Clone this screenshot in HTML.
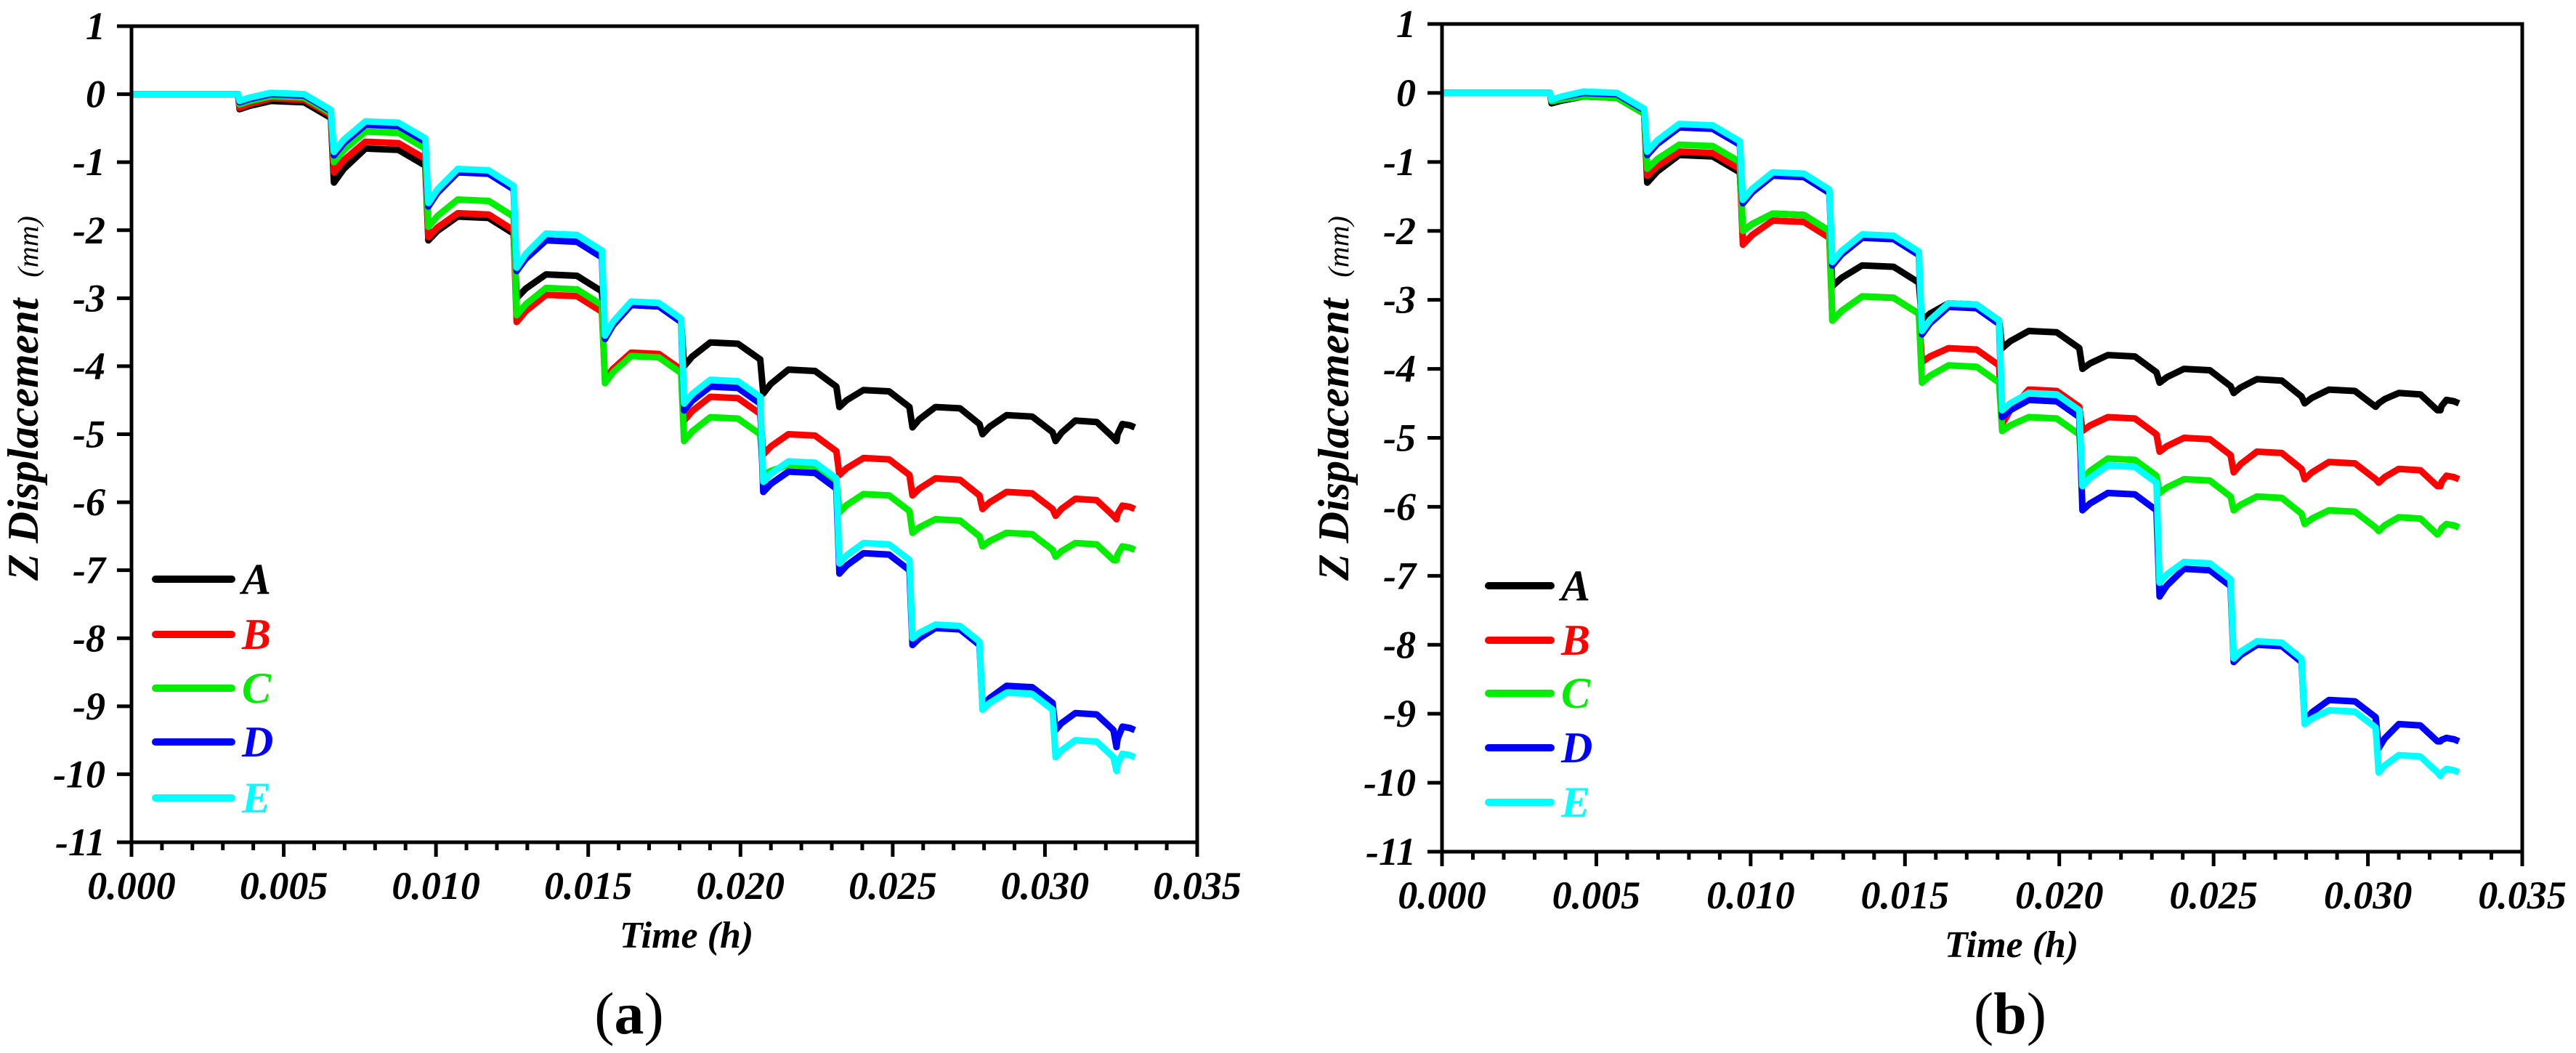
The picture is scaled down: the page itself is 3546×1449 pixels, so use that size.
<!DOCTYPE html>
<html><head><meta charset="utf-8"><style>
html,body{margin:0;padding:0;background:#fff;}
svg{display:block;}
text{font-family:"Liberation Serif",serif;}
</style></head><body>
<svg id="fig" width="3546" height="1449" viewBox="0 0 3546 1449" xmlns="http://www.w3.org/2000/svg"></svg>
<script>
// ---- shared data ----
const stepTimes = [0, 0.0035, 0.0066, 0.0097, 0.0126, 0.0155, 0.0181, 0.0207, 0.0232, 0.0256, 0.0279, 0.0303, 0.0323, 0.0330];
const seriesNames = ["A", "B", "C", "D", "E"];
const xTicks = ["0.000", "0.005", "0.010", "0.015", "0.020", "0.025", "0.030", "0.035"];
const yTicks = [1, 0, -1, -2, -3, -4, -5, -6, -7, -8, -9, -10, -11];
// panel (a): low value right after each step, and recovered plateau
const aLowA = [0, -0.22, -1.3, -2.15, -3.0, -3.55, -4.0, -4.4, -4.6, -4.9, -5.0, -5.1, -5.1];
const aHighA = [0, -0.1, -0.8, -1.8, -2.65, -3.1, -3.65, -4.05, -4.35, -4.6, -4.72, -4.8, -4.85];
const aLowB = [0, -0.2, -1.15, -2.1, -3.35, -4.2, -4.8, -5.3, -5.6, -5.9, -6.1, -6.2, -6.25];
const aHighB = [0, -0.06, -0.7, -1.75, -2.95, -3.8, -4.45, -5.0, -5.35, -5.65, -5.85, -5.95, -6.05];
const aLowC = [0, -0.15, -1.0, -1.95, -3.25, -4.25, -5.1, -5.6, -6.15, -6.45, -6.65, -6.8, -6.85];
const aHighC = [0, -0.03, -0.55, -1.55, -2.85, -3.85, -4.75, -5.45, -5.88, -6.25, -6.45, -6.6, -6.65];
const aLowD = [0, -0.12, -0.9, -1.65, -2.6, -3.6, -4.65, -5.85, -7.05, -8.1, -9.0, -9.35, -9.6];
const aHighD = [0, 0.0, -0.45, -1.15, -2.15, -3.1, -4.3, -5.55, -6.75, -7.85, -8.7, -9.1, -9.3];
const aLowE = [0, -0.1, -0.85, -1.6, -2.55, -3.55, -4.55, -5.7, -6.9, -8.0, -9.05, -9.75, -9.95];
const aHighE = [0, 0.02, -0.4, -1.1, -2.05, -3.05, -4.2, -5.4, -6.6, -7.8, -8.8, -9.5, -9.7];
// panel (b)
const bLowA = [0, -0.15, -1.3, -2.0, -2.8, -3.3, -3.7, -4.0, -4.2, -4.35, -4.5, -4.5, -4.6];
const bHighA = [0, -0.05, -0.9, -1.75, -2.5, -3.05, -3.45, -3.8, -4.0, -4.15, -4.3, -4.35, -4.45];
const bLowB = [0, -0.12, -1.2, -2.2, -3.3, -3.9, -4.8, -4.9, -5.2, -5.5, -5.6, -5.65, -5.7];
const bHighB = [0, -0.05, -0.85, -1.85, -2.95, -3.7, -4.3, -4.7, -5.0, -5.2, -5.35, -5.45, -5.55];
const bLowC = [0, -0.12, -1.1, -2.0, -3.3, -4.2, -4.9, -5.6, -5.8, -6.05, -6.25, -6.35, -6.35];
const bHighC = [0, -0.05, -0.75, -1.75, -2.95, -3.95, -4.7, -5.3, -5.6, -5.85, -6.05, -6.15, -6.25];
const bLowD = [0, -0.1, -0.9, -1.6, -2.5, -3.5, -4.7, -6.05, -7.3, -8.25, -9.1, -9.5, -9.4];
const bHighD = [0, 0.0, -0.5, -1.2, -2.1, -3.1, -4.45, -5.8, -6.9, -8.0, -8.8, -9.15, -9.35];
const bLowE = [0, -0.1, -0.85, -1.55, -2.45, -3.45, -4.6, -5.7, -7.1, -8.2, -9.15, -9.85, -9.9];
const bHighE = [0, 0.02, -0.45, -1.15, -2.05, -3.05, -4.35, -5.4, -6.8, -7.95, -8.95, -9.6, -9.8];

const colors = ["#000000", "#ff0000", "#00ee00", "#0000ff", "#00ffff"];
const NS = "http://www.w3.org/2000/svg";
const svg = document.getElementById("fig");
function mk(tag, attrs, parent) {
  const e = document.createElementNS(NS, tag);
  for (const k in attrs) e.setAttribute(k, attrs[k]);
  (parent || svg).appendChild(e);
  return e;
}

function drawPanel(p) {
  const g = mk("g", {});
  
  
  const xS = t => p.x0 + (t / 0.035) * (p.x1 - p.x0);
  const yS = v => p.yTop + (1 - v) / 12 * (p.yBot - p.yTop);

  // series
  p.series.forEach((s, si) => {
    const low = s[0], high = s[1];
    let pts = [[xS(0), yS(0)], [xS(stepTimes[1]), yS(0)]];
    for (let k = 1; k < stepTimes.length - 1; k++) {
      const t0 = stepTimes[k], t1 = stepTimes[k + 1], L = t1 - t0;
      pts.push([xS(t0 + 0.00005), yS(low[k])]);
      pts.push([xS(t0 + 0.12 * L), yS((low[k] * 0.6 + high[k] * 0.4))]);
      pts.push([xS(t0 + 0.35 * L), yS(high[k])]);
      pts.push([xS(t0 + 0.7 * L), yS(high[k] - 0.02)]);
      const last = k === stepTimes.length - 2;
      pts.push([xS(t1 - 0.00005), yS(high[k] - (last ? 0.05 : 0.25))]);
    }
    const pl = mk("polyline", {points: pts.map(q => q[0].toFixed(1) + "," + q[1].toFixed(1)).join(" "),
      fill: "none", stroke: colors[si], "stroke-width": 9, "stroke-linejoin": "round"}, g);
    
    
  });

  // frame
  const fr = mk("rect", {x: p.x0, y: p.yTop, width: p.x1 - p.x0, height: p.yBot - p.yTop, fill: "none", stroke: "#000", "stroke-width": 5}, g);
  
  

  // y ticks
  yTicks.forEach(v => {
    const y = yS(v);
    mk("line", {x1: p.x0 - 20, x2: p.x0, y1: y, y2: y, stroke: "#000", "stroke-width": 5}, g);
    const tx = mk("text", {x: p.x0 - 36, y: y + 18, "text-anchor": "end", "font-size": 54, "font-weight": "bold", "font-style": "italic"}, g);
    tx.textContent = String(v);
    
    
  });
  // x ticks
  for (let i = 0; i <= 35; i++) {
    const x = xS(i * 0.001);
    const major = i % 5 === 0;
    mk("line", {x1: x, x2: x, y1: p.yBot, y2: p.yBot + (major ? 20 : 11), stroke: "#000", "stroke-width": 5}, g);
  }
  xTicks.forEach((lab, i) => {
    const tx = mk("text", {x: xS(i * 0.005), y: p.yBot + 78, "text-anchor": "middle", "font-size": 54, "font-weight": "bold", "font-style": "italic"}, g);
    tx.textContent = lab;
    
    
  });
  // axis titles
  const xt = mk("text", {x: p.titleX, y: p.yBot + 145, "text-anchor": "middle", "font-size": 52, "font-weight": "bold", "font-style": "italic"}, g);
  xt.textContent = "Time (h)";
  
  
  const yt = mk("text", {x: 0, y: 0, "text-anchor": "middle", transform: "translate(" + p.yTitleX + "," + p.yTitleY + ") rotate(-90)", "font-size": 60, "font-weight": "bold", "font-style": "italic"}, g);
  yt.innerHTML = 'Z Displacement <tspan font-size="40" font-weight="normal" dx="14">(mm)</tspan>';
  
  
  // panel label
  const pl2 = mk("text", {x: p.labelX, y: 1422, "text-anchor": "middle", "font-size": 82}, g);
  pl2.innerHTML = '(<tspan font-weight="bold">' + p.letter + '</tspan>)';
  
  
  // legend
  seriesNames.forEach((n, i) => {
    const y = p.legY[i];
    const ln = mk("line", {x1: p.legX0, x2: p.legX1, y1: y, y2: y, stroke: colors[i], "stroke-width": 10, "stroke-linecap": "round"}, g);
    
    
    const t = mk("text", {x: p.legX1 + 14, y: y + 20, "font-size": 60, "font-weight": "bold", "font-style": "italic", fill: colors[i]}, g);
    t.textContent = n;
    
    
  });
}

drawPanel({id: "panel-a", letter: "a", x0: 181, x1: 1648, yTop: 36, yBot: 1159, titleX: 945, labelX: 866,
  yTitleX: 52, yTitleY: 548, legX0: 214, legX1: 319, legY: [797, 873, 947, 1021, 1098],
  series: [[aLowA, aHighA], [aLowB, aHighB], [aLowC, aHighC], [aLowD, aHighD], [aLowE, aHighE]]});
drawPanel({id: "panel-b", letter: "b", x0: 1985, x1: 3472, yTop: 33, yBot: 1172, titleX: 2769, labelX: 2767,
  yTitleX: 1856, yTitleY: 548, legX0: 2049, legX1: 2135, legY: [806, 881, 954, 1029, 1104],
  series: [[bLowA, bHighA], [bLowB, bHighB], [bLowC, bHighC], [bLowD, bHighD], [bLowE, bHighE]]});
</script>
</body></html>
